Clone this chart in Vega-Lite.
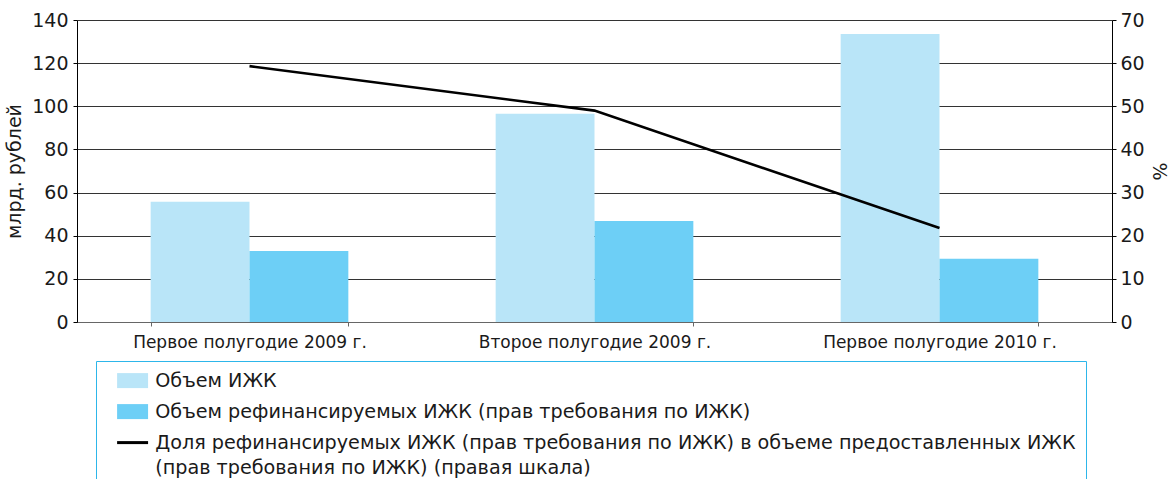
{
  "$schema": "https://vega.github.io/schema/vega-lite/v6.json",
  "width": 1035,
  "height": 302,
  "autosize": {"type": "none"},
  "padding": {"left": 77, "top": 20, "right": 58, "bottom": 157},
  "background": "white",
  "config": {
    "font": "DejaVu Sans",
    "view": {"stroke": null},
    "axis": {"labelFont": "DejaVu Sans", "titleFont": "DejaVu Sans", "titleFontWeight": "normal", "labelColor": "#1a1a1a", "titleColor": "#1a1a1a"}
  },
  "datasets": {
    "bars": [
      {"period": "Первое полугодие 2009 г.", "series": "Объем ИЖК", "value": 55.8},
      {"period": "Первое полугодие 2009 г.", "series": "Объем рефинансируемых ИЖК (прав требования по ИЖК)", "value": 32.9},
      {"period": "Второе полугодие 2009 г.", "series": "Объем ИЖК", "value": 96.5},
      {"period": "Второе полугодие 2009 г.", "series": "Объем рефинансируемых ИЖК (прав требования по ИЖК)", "value": 46.8},
      {"period": "Первое полугодие 2010 г.", "series": "Объем ИЖК", "value": 133.5},
      {"period": "Первое полугодие 2010 г.", "series": "Объем рефинансируемых ИЖК (прав требования по ИЖК)", "value": 29.3}
    ],
    "share": [
      {"period": "Первое полугодие 2009 г.", "series": "Доля рефинансируемых ИЖК (прав требования по ИЖК) в объеме предоставленных ИЖК (прав требования по ИЖК) (правая шкала)", "share": 59.3},
      {"period": "Второе полугодие 2009 г.", "series": "Доля рефинансируемых ИЖК (прав требования по ИЖК) в объеме предоставленных ИЖК (прав требования по ИЖК) (правая шкала)", "share": 49.0},
      {"period": "Первое полугодие 2010 г.", "series": "Доля рефинансируемых ИЖК (прав требования по ИЖК) в объеме предоставленных ИЖК (прав требования по ИЖК) (правая шкала)", "share": 21.8}
    ]
  },
  "layer": [
    {
      "data": {"name": "bars"},
      "mark": {"type": "bar"},
      "encoding": {
        "x": {
          "field": "period", "type": "nominal",
          "sort": ["Первое полугодие 2009 г.", "Второе полугодие 2009 г.", "Первое полугодие 2010 г."],
          "scale": {"paddingInner": 0.427, "paddingOuter": 0.2135},
          "axis": {"title": null, "labelAngle": 0, "labelFontSize": 17, "tickBand": "extent", "tickSize": 4, "tickColor": "#666", "domainColor": "#666", "labelPadding": 8, "labelLimit": 400}
        },
        "xOffset": {
          "field": "series", "type": "nominal",
          "sort": ["Объем ИЖК", "Объем рефинансируемых ИЖК (прав требования по ИЖК)"],
          "scale": {"paddingInner": 0, "paddingOuter": 0}
        },
        "y": {
          "field": "value", "type": "quantitative",
          "scale": {"domain": [0, 140], "nice": false},
          "axis": {"values": [0, 20, 40, 60, 80, 100, 120, 140], "title": "млрд. рублей", "titleFontSize": 19, "labelFontSize": 19, "grid": true, "gridColor": "#333", "gridOpacity": 1, "domainColor": "#000", "tickColor": "#000", "tickSize": 4, "labelPadding": 5, "titlePadding": 7}
        },
        "color": {
          "field": "series", "type": "nominal",
          "scale": {
            "domain": ["Объем ИЖК", "Объем рефинансируемых ИЖК (прав требования по ИЖК)", "Доля рефинансируемых ИЖК (прав требования по ИЖК) в объеме предоставленных ИЖК (прав требования по ИЖК) (правая шкала)"],
            "range": ["#b9e5f8", "#6dcff6", "#000000"]
          },
          "legend": {
            "orient": "none", "legendX": 19, "legendY": 341,
            "title": null, "direction": "vertical",
            "strokeColor": "#2db6ea", "padding": 10,
            "labelFontSize": 19.2, "labelFont": "DejaVu Sans", "labelColor": "#1a1a1a", "labelLimit": 2000,
            "symbolSize": 225, "symbolOffset": 9, "labelOffset": 21, "rowPadding": 10,
            "labelBaseline": "top",
            "labelExpr": "datum.index == 2 ? [slice(datum.label, 0, indexof(datum.label, ' (прав требования по ИЖК) (')), slice(datum.label, indexof(datum.label, ' (прав требования по ИЖК) (') + 1)] : datum.label",
            "encode": {
              "symbols": {"update": {
                "shape": {"signal": "datum.index == 2 ? 'M-1,-0.2H3.13V0.2H-1Z' : 'M-1,-1H3.13V1H-1Z'"},
                "fill": {"signal": "scale('color', datum.value)"},
                "stroke": {"value": "transparent"},
                "strokeWidth": {"value": 0},
                "opacity": {"value": 1},
                "fillOpacity": {"value": 1}
              }},
              "labels": {"update": {"lineHeight": {"value": 25}, "dy": {"value": -8.5}}}
            }
          }
        }
      }
    },
    {
      "data": {"name": "share"},
      "mark": {"type": "line", "strokeWidth": 2.6},
      "encoding": {
        "x": {"field": "period", "type": "nominal", "sort": ["Первое полугодие 2009 г.", "Второе полугодие 2009 г.", "Первое полугодие 2010 г."]},
        "y": {
          "field": "share", "type": "quantitative",
          "scale": {"domain": [0, 70], "nice": false},
          "axis": {"orient": "right", "values": [0, 10, 20, 30, 40, 50, 60, 70], "title": "%", "titleFontSize": 19, "labelFontSize": 19, "grid": false, "domainColor": "#000", "tickColor": "#000", "tickSize": 4, "labelPadding": 4, "titlePadding": 4}
        },
        "color": {"field": "series", "type": "nominal"}
      }
    }
  ],
  "resolve": {"scale": {"y": "independent"}}
}
